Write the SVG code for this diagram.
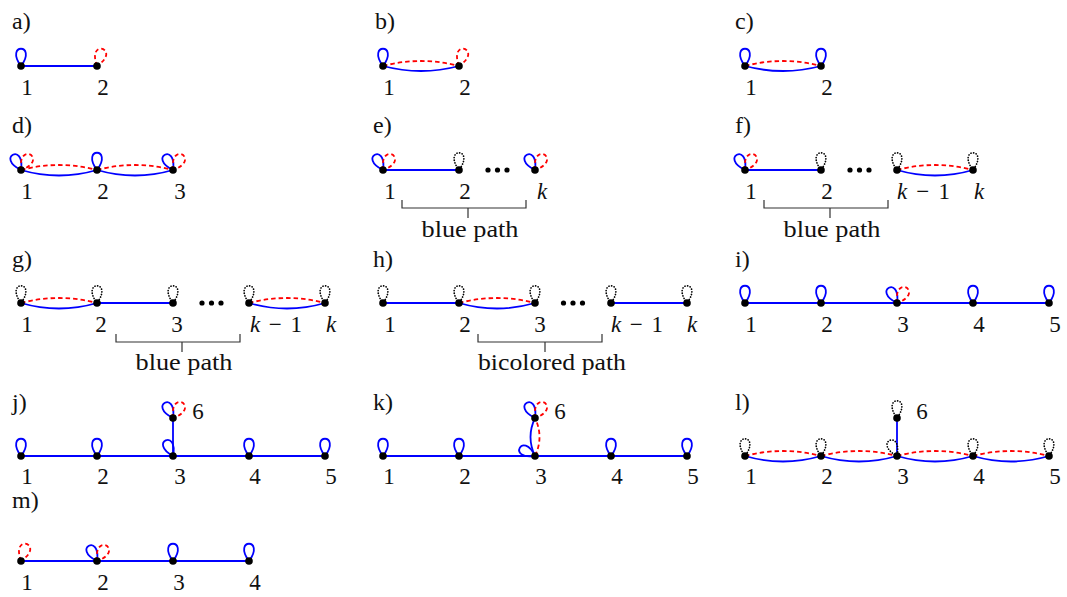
<svg xmlns="http://www.w3.org/2000/svg" width="1067" height="597" viewBox="0 0 1067 597" font-family="'Liberation Serif', 'DejaVu Serif', serif">
<style>
text{font-family:"Liberation Serif","DejaVu Serif","Times New Roman",serif;font-size:23px;fill:#111;}
.n text{text-anchor:middle;}
.pl{text-anchor:start;font-size:24px;}
.it{font-style:italic;}
.lb{fill:none;stroke:#0000ff;stroke-width:1.8;}
.lr{fill:none;stroke:#ff0000;stroke-width:1.8;stroke-dasharray:4 3;}
.lk{fill:none;stroke:#000;stroke-width:1.7;stroke-dasharray:0.1 2.6;stroke-linecap:round;}
.eb{fill:none;stroke:#0000ff;stroke-width:1.8;}
.er{fill:none;stroke:#ff0000;stroke-width:1.8;stroke-dasharray:4.5 3;}
.br{fill:none;stroke:#333;stroke-width:1.2;}
circle{fill:#000;}
</style>
<defs>
<path id="L" d="M0,0 C-17,-23 17,-23 0,0"/>
<path id="R" d="M0,0 C-19,-24 19,-24 0,0"/>
</defs>

<g id="panel-a">
<text class="pl" x="12" y="29">a)</text>
<g id="a-edges"><path class="eb" d="M21,66 H97"/></g>
<g id="a-n1" class="n"><use href="#L" class="lb" transform="translate(21,66)"/><circle cx="21" cy="66" r="3.8"/><text x="27" y="95">1</text></g>
<g id="a-n2" class="n"><use href="#R" class="lr" transform="translate(97,66) rotate(18)"/><circle cx="97" cy="66" r="3.8"/><text x="103" y="95">2</text></g>
</g>

<g id="panel-b">
<text class="pl" x="375" y="29">b)</text>
<g id="b-edges"><path class="er" d="M383,66 Q421,56 459,66"/><path class="eb" d="M383,66 Q421,76 459,66"/></g>
<g id="b-n1" class="n"><use href="#L" class="lb" transform="translate(383,66)"/><circle cx="383" cy="66" r="3.8"/><text x="389" y="95">1</text></g>
<g id="b-n2" class="n"><use href="#R" class="lr" transform="translate(459,66) rotate(18)"/><circle cx="459" cy="66" r="3.8"/><text x="465" y="95">2</text></g>
</g>

<g id="panel-c">
<text class="pl" x="735" y="29">c)</text>
<g id="c-edges"><path class="er" d="M745,66 Q783,56 821,66"/><path class="eb" d="M745,66 Q783,76 821,66"/></g>
<g id="c-n1" class="n"><use href="#L" class="lb" transform="translate(745,66)"/><circle cx="745" cy="66" r="3.8"/><text x="751" y="95">1</text></g>
<g id="c-n2" class="n"><use href="#L" class="lb" transform="translate(821,66)"/><circle cx="821" cy="66" r="3.8"/><text x="827" y="95">2</text></g>
</g>

<g id="panel-d">
<text class="pl" x="12" y="133">d)</text>
<g id="d-edges"><path class="er" d="M21,170 Q59,160 97,170"/><path class="eb" d="M21,170 Q59,181 97,170"/><path class="er" d="M97,170 Q135,160 173,170"/><path class="eb" d="M97,170 Q135,181 173,170"/></g>
<g id="d-n1" class="n"><use href="#L" class="lb" transform="translate(21,170) rotate(-28)"/><use href="#R" class="lr" transform="translate(21,170) rotate(32)"/><circle cx="21" cy="170" r="3.8"/><text x="27" y="199">1</text></g>
<g id="d-n2" class="n"><use href="#L" class="lb" transform="translate(97,170)"/><circle cx="97" cy="170" r="3.8"/><text x="103" y="199">2</text></g>
<g id="d-n3" class="n"><use href="#L" class="lb" transform="translate(173,170) rotate(-28)"/><use href="#R" class="lr" transform="translate(173,170) rotate(32)"/><circle cx="173" cy="170" r="3.8"/><text x="180" y="199">3</text></g>
</g>

<g id="panel-e">
<text class="pl" x="373" y="133">e)</text>
<g id="e-edges"><path class="eb" d="M383,170 H459"/></g>
<g id="e-n1" class="n"><use href="#L" class="lb" transform="translate(383,170) rotate(-28)"/><use href="#R" class="lr" transform="translate(383,170) rotate(32)"/><circle cx="383" cy="170" r="3.8"/><text x="390" y="199">1</text></g>
<g id="e-n2" class="n"><use href="#L" class="lk" transform="translate(459,170)"/><circle cx="459" cy="170" r="3.8"/><text x="465" y="199">2</text></g>
<g id="e-dots"><circle cx="488" cy="170" r="2.6"/><circle cx="497.5" cy="170" r="2.6"/><circle cx="507" cy="170" r="2.6"/></g>
<g id="e-nk" class="n"><use href="#L" class="lb" transform="translate(535,170) rotate(-28)"/><use href="#R" class="lr" transform="translate(535,170) rotate(32)"/><circle cx="535" cy="170" r="3.8"/><text class="it" x="542" y="199">k</text></g>
<g id="e-bracket"><path class="br" d="M402,200 V208 H526 V200 M468,208 V218"/><text x="470" y="237" text-anchor="middle" textLength="97" lengthAdjust="spacingAndGlyphs">blue path</text></g>
</g>

<g id="panel-f">
<text class="pl" x="735" y="133">f)</text>
<g id="f-edges"><path class="eb" d="M745,170 H821"/><path class="er" d="M897,170 Q935,160 973,170"/><path class="eb" d="M897,170 Q935,181 973,170"/></g>
<g id="f-n1" class="n"><use href="#L" class="lb" transform="translate(745,170) rotate(-28)"/><use href="#R" class="lr" transform="translate(745,170) rotate(32)"/><circle cx="745" cy="170" r="3.8"/><text x="751" y="199">1</text></g>
<g id="f-n2" class="n"><use href="#L" class="lk" transform="translate(821,170)"/><circle cx="821" cy="170" r="3.8"/><text x="827" y="199">2</text></g>
<g id="f-dots"><circle cx="850" cy="170" r="2.6"/><circle cx="859.5" cy="170" r="2.6"/><circle cx="869" cy="170" r="2.6"/></g>
<g id="f-nk1"><use href="#L" class="lk" transform="translate(897,170)"/><circle cx="897" cy="170" r="3.8"/><text x="897" y="199" textLength="53" lengthAdjust="spacing"><tspan class="it">k</tspan> − 1</text></g>
<g id="f-nk" class="n"><use href="#L" class="lk" transform="translate(973,170)"/><circle cx="973" cy="170" r="3.8"/><text class="it" x="979" y="199">k</text></g>
<g id="f-bracket"><path class="br" d="M764,200 V208 H888 V200 M830,208 V218"/><text x="832" y="237" text-anchor="middle" textLength="97" lengthAdjust="spacingAndGlyphs">blue path</text></g>
</g>

<g id="panel-g">
<text class="pl" x="12" y="267">g)</text>
<g id="g-edges"><path class="er" d="M21,303 Q59,293 97,303"/><path class="eb" d="M21,303 Q59,314 97,303"/><path class="eb" d="M97,303 H173"/><path class="er" d="M249,303 Q287,293 325,303"/><path class="eb" d="M249,303 Q287,314 325,303"/></g>
<g id="g-n1" class="n"><use href="#L" class="lk" transform="translate(21,303)"/><circle cx="21" cy="303" r="3.8"/><text x="27" y="332">1</text></g>
<g id="g-n2" class="n"><use href="#L" class="lk" transform="translate(97,303)"/><circle cx="97" cy="303" r="3.8"/><text x="101" y="332">2</text></g>
<g id="g-n3" class="n"><use href="#L" class="lk" transform="translate(173,303)"/><circle cx="173" cy="303" r="3.8"/><text x="177" y="332">3</text></g>
<g id="g-dots"><circle cx="202" cy="303" r="2.6"/><circle cx="211.5" cy="303" r="2.6"/><circle cx="221" cy="303" r="2.6"/></g>
<g id="g-nk1"><use href="#L" class="lk" transform="translate(249,303)"/><circle cx="249" cy="303" r="3.8"/><text x="250" y="332" textLength="52" lengthAdjust="spacing"><tspan class="it">k</tspan> − 1</text></g>
<g id="g-nk" class="n"><use href="#L" class="lk" transform="translate(325,303)"/><circle cx="325" cy="303" r="3.8"/><text class="it" x="331" y="332">k</text></g>
<g id="g-bracket"><path class="br" d="M116,334 V342 H240 V334 M182,342 V352"/><text x="184" y="370" text-anchor="middle" textLength="97" lengthAdjust="spacingAndGlyphs">blue path</text></g>
</g>

<g id="panel-h">
<text class="pl" x="373" y="267">h)</text>
<g id="h-edges"><path class="eb" d="M383,303 H459"/><path class="er" d="M459,303 Q497,293 535,303"/><path class="eb" d="M459,303 Q497,314 535,303"/><path class="eb" d="M611,303 H687"/></g>
<g id="h-n1" class="n"><use href="#L" class="lk" transform="translate(383,303)"/><circle cx="383" cy="303" r="3.8"/><text x="390" y="332">1</text></g>
<g id="h-n2" class="n"><use href="#L" class="lk" transform="translate(459,303)"/><circle cx="459" cy="303" r="3.8"/><text x="465" y="332">2</text></g>
<g id="h-n3" class="n"><use href="#L" class="lk" transform="translate(535,303)"/><circle cx="535" cy="303" r="3.8"/><text x="540" y="332">3</text></g>
<g id="h-dots"><circle cx="563.5" cy="303" r="2.6"/><circle cx="573" cy="303" r="2.6"/><circle cx="582.5" cy="303" r="2.6"/></g>
<g id="h-nk1"><use href="#L" class="lk" transform="translate(611,303)"/><circle cx="611" cy="303" r="3.8"/><text x="611" y="332" textLength="52" lengthAdjust="spacing"><tspan class="it">k</tspan> − 1</text></g>
<g id="h-nk" class="n"><use href="#L" class="lk" transform="translate(687,303)"/><circle cx="687" cy="303" r="3.8"/><text class="it" x="692" y="332">k</text></g>
<g id="h-bracket"><path class="br" d="M478,334 V342 H602 V334 M545,342 V352"/><text x="552" y="370" text-anchor="middle" textLength="148" lengthAdjust="spacingAndGlyphs">bicolored path</text></g>
</g>

<g id="panel-i">
<text class="pl" x="735" y="267">i)</text>
<g id="i-edges"><path class="eb" d="M745,303 H1049"/></g>
<g id="i-n1" class="n"><use href="#L" class="lb" transform="translate(745,303)"/><circle cx="745" cy="303" r="3.8"/><text x="751" y="332">1</text></g>
<g id="i-n2" class="n"><use href="#L" class="lb" transform="translate(821,303)"/><circle cx="821" cy="303" r="3.8"/><text x="827" y="332">2</text></g>
<g id="i-n3" class="n"><use href="#L" class="lb" transform="translate(897,303) rotate(-28)"/><use href="#R" class="lr" transform="translate(897,303) rotate(32)"/><circle cx="897" cy="303" r="3.8"/><text x="903" y="332">3</text></g>
<g id="i-n4" class="n"><use href="#L" class="lb" transform="translate(973,303)"/><circle cx="973" cy="303" r="3.8"/><text x="979" y="332">4</text></g>
<g id="i-n5" class="n"><use href="#L" class="lb" transform="translate(1049,303)"/><circle cx="1049" cy="303" r="3.8"/><text x="1055" y="332">5</text></g>
</g>

<g id="panel-j">
<text class="pl" x="12" y="410">j)</text>
<g id="j-edges"><path class="eb" d="M21,456 H325"/><path class="eb" d="M173,456 V418"/></g>
<g id="j-n1" class="n"><use href="#L" class="lb" transform="translate(21,456)"/><circle cx="21" cy="456" r="3.8"/><text x="27" y="484">1</text></g>
<g id="j-n2" class="n"><use href="#L" class="lb" transform="translate(97,456)"/><circle cx="97" cy="456" r="3.8"/><text x="103" y="484">2</text></g>
<g id="j-n3" class="n"><use href="#L" class="lb" transform="translate(173,456) rotate(-25)"/><circle cx="173" cy="456" r="3.8"/><text x="180" y="484">3</text></g>
<g id="j-n4" class="n"><use href="#L" class="lb" transform="translate(249,456)"/><circle cx="249" cy="456" r="3.8"/><text x="255" y="484">4</text></g>
<g id="j-n5" class="n"><use href="#L" class="lb" transform="translate(325,456)"/><circle cx="325" cy="456" r="3.8"/><text x="331" y="484">5</text></g>
<g id="j-n6" class="n"><use href="#L" class="lb" transform="translate(173,418) rotate(-28)"/><use href="#R" class="lr" transform="translate(173,418) rotate(32)"/><circle cx="173" cy="418" r="3.8"/><text x="198" y="419">6</text></g>
</g>

<g id="panel-k">
<text class="pl" x="373" y="410">k)</text>
<g id="k-edges"><path class="eb" d="M383,456 H687"/><path class="eb" d="M535,456 Q526,437 535,418"/><path class="er" d="M535,456 Q544,437 535,418"/></g>
<g id="k-n1" class="n"><use href="#L" class="lb" transform="translate(383,456)"/><circle cx="383" cy="456" r="3.8"/><text x="389" y="484">1</text></g>
<g id="k-n2" class="n"><use href="#L" class="lb" transform="translate(459,456)"/><circle cx="459" cy="456" r="3.8"/><text x="465" y="484">2</text></g>
<g id="k-n3" class="n"><use href="#L" class="lb" transform="translate(535,456) rotate(-62)"/><circle cx="535" cy="456" r="3.8"/><text x="541" y="484">3</text></g>
<g id="k-n4" class="n"><use href="#L" class="lb" transform="translate(611,456)"/><circle cx="611" cy="456" r="3.8"/><text x="617" y="484">4</text></g>
<g id="k-n5" class="n"><use href="#L" class="lb" transform="translate(687,456)"/><circle cx="687" cy="456" r="3.8"/><text x="693" y="484">5</text></g>
<g id="k-n6" class="n"><use href="#L" class="lb" transform="translate(535,418) rotate(-28)"/><use href="#R" class="lr" transform="translate(535,418) rotate(32)"/><circle cx="535" cy="418" r="3.8"/><text x="560" y="419">6</text></g>
</g>

<g id="panel-l">
<text class="pl" x="735" y="410">l)</text>
<g id="l-edges">
<path class="er" d="M745,456 Q783,446 821,456"/><path class="eb" d="M745,456 Q783,467 821,456"/>
<path class="er" d="M821,456 Q859,446 897,456"/><path class="eb" d="M821,456 Q859,467 897,456"/>
<path class="er" d="M897,456 Q935,446 973,456"/><path class="eb" d="M897,456 Q935,467 973,456"/>
<path class="er" d="M973,456 Q1011,446 1049,456"/><path class="eb" d="M973,456 Q1011,467 1049,456"/>
<path class="eb" d="M897,456 V418"/>
</g>
<g id="l-n1" class="n"><use href="#L" class="lk" transform="translate(745,456)"/><circle cx="745" cy="456" r="3.8"/><text x="751" y="484">1</text></g>
<g id="l-n2" class="n"><use href="#L" class="lk" transform="translate(821,456)"/><circle cx="821" cy="456" r="3.8"/><text x="827" y="484">2</text></g>
<g id="l-n3" class="n"><use href="#L" class="lk" transform="translate(897,456) rotate(-25)"/><circle cx="897" cy="456" r="3.8"/><text x="903" y="484">3</text></g>
<g id="l-n4" class="n"><use href="#L" class="lk" transform="translate(973,456)"/><circle cx="973" cy="456" r="3.8"/><text x="979" y="484">4</text></g>
<g id="l-n5" class="n"><use href="#L" class="lk" transform="translate(1049,456)"/><circle cx="1049" cy="456" r="3.8"/><text x="1055" y="484">5</text></g>
<g id="l-n6" class="n"><use href="#L" class="lk" transform="translate(897,418)"/><circle cx="897" cy="418" r="3.8"/><text x="922" y="419">6</text></g>
</g>

<g id="panel-m">
<text class="pl" x="12" y="508">m)</text>
<g id="m-edges"><path class="eb" d="M21,561 H249"/></g>
<g id="m-n1" class="n"><use href="#R" class="lr" transform="translate(21,561) rotate(18)"/><circle cx="21" cy="561" r="3.8"/><text x="27" y="590">1</text></g>
<g id="m-n2" class="n"><use href="#L" class="lb" transform="translate(97,561) rotate(-28)"/><use href="#R" class="lr" transform="translate(97,561) rotate(32)"/><circle cx="97" cy="561" r="3.8"/><text x="103" y="590">2</text></g>
<g id="m-n3" class="n"><use href="#L" class="lb" transform="translate(173,561)"/><circle cx="173" cy="561" r="3.8"/><text x="179" y="590">3</text></g>
<g id="m-n4" class="n"><use href="#L" class="lb" transform="translate(249,561)"/><circle cx="249" cy="561" r="3.8"/><text x="255" y="590">4</text></g>
</g>
</svg>
